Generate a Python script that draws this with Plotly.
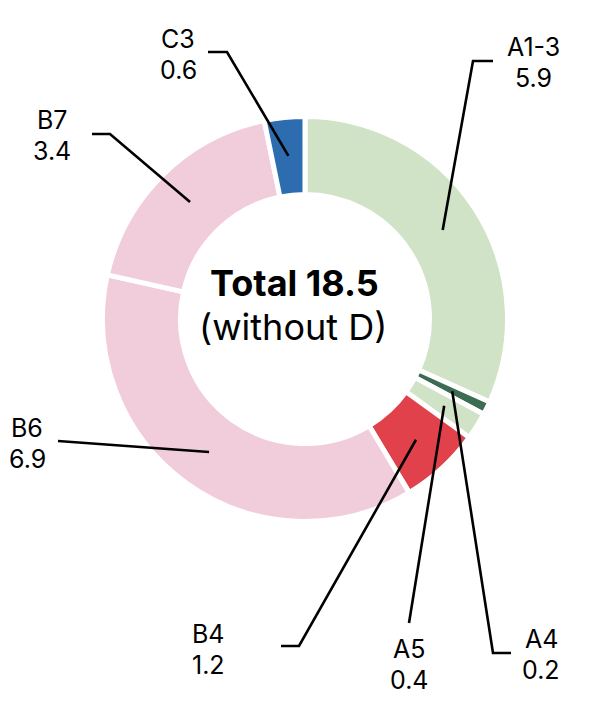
import math
import plotly.graph_objects as go

# ---- data ----
categories = ["A1-3", "A4", "A5", "B4", "B6", "B7", "C3"]
values = [5.9, 0.2, 0.4, 1.2, 6.9, 3.4, 0.6]
colors = ["#d0e3c6", "#3c6c51", "#d0e3c6", "#e0414b", "#f1ccda", "#f1ccda", "#2e6cb0"]
center_title = "Total 18.5"
center_sub = "(without D)"

# ---- layout constants (pixels) ----
W, H = 592, 718
CX, CY = 305, 319          # ring centre
R_OUT, R_IN = 202.5, 124.5  # ring radii incl. stroke
R_ANCHOR = 164             # where leader lines touch the ring
FONT = "Inter"

# label placement: (text x, name cap-centre y, elbow point or None, line end point)
label_pos = {
    "A1-3": (533, 46, (473, 61), (493, 61)),
    "A4":   (541, 638, (493, 653), (511, 653)),
    "A5":   (409, 648, None, (409, 623)),
    "B4":   (209, 633, (299, 646), (281, 646)),
    "B6":   (27, 427, None, (58, 441)),
    "B7":   (52, 119, (110, 134), (92, 134)),
    "C3":   (178, 38, (227, 52), (208, 52)),
}

def px(x):
    return x / W

def py(y):
    return 1 - y / H

fig = go.Figure(go.Pie(
    labels=categories,
    values=values,
    sort=False,
    direction="clockwise",
    rotation=0,
    hole=R_IN / R_OUT,
    marker=dict(colors=colors, line=dict(color="white", width=5)),
    textinfo="none",
    hoverinfo="skip",
    showlegend=False,
    domain=dict(x=[px(CX - R_OUT), px(CX + R_OUT)],
                y=[py(CY + R_OUT), py(CY - R_OUT)]),
))

total = sum(values)
shapes = []
annotations = []
cum = 0.0
for name, v in zip(categories, values):
    mid = (cum + v / 2) / total * 2 * math.pi
    cum += v
    ax = CX + R_ANCHOR * math.sin(mid)
    ay = CY - R_ANCHOR * math.cos(mid)
    tx, ty, elbow, end = label_pos[name]
    pts = [end] + ([elbow] if elbow else []) + [(ax, ay)]
    path = "M " + " L ".join(f"{px(x):.5f},{py(y):.5f}" for x, y in pts)
    shapes.append(dict(type="path", xref="paper", yref="paper", path=path,
                       line=dict(color="black", width=2.6)))
    for txt, yy in ((name, ty), (f"{v:.1f}", ty + 31)):
        annotations.append(dict(x=px(tx), y=py(yy + 1), xref="paper", yref="paper",
                                text=txt, showarrow=False, xanchor="center", yanchor="middle",
                                font=dict(family=FONT, size=25, color="black")))

annotations.append(dict(x=px(294), y=py(283), xref="paper", yref="paper",
                        text=f"<b>{center_title}</b>", showarrow=False,
                        xanchor="center", yanchor="middle",
                        font=dict(family=FONT, size=36, color="black")))
annotations.append(dict(x=px(293), y=py(327), xref="paper", yref="paper",
                        text=center_sub, showarrow=False,
                        xanchor="center", yanchor="middle",
                        font=dict(family=FONT, size=36, color="black")))

fig.update_layout(
    width=W, height=H,
    margin=dict(l=0, r=0, t=0, b=0),
    paper_bgcolor="white", plot_bgcolor="white",
    shapes=shapes, annotations=annotations,
)
fig.write_html("out.html")
